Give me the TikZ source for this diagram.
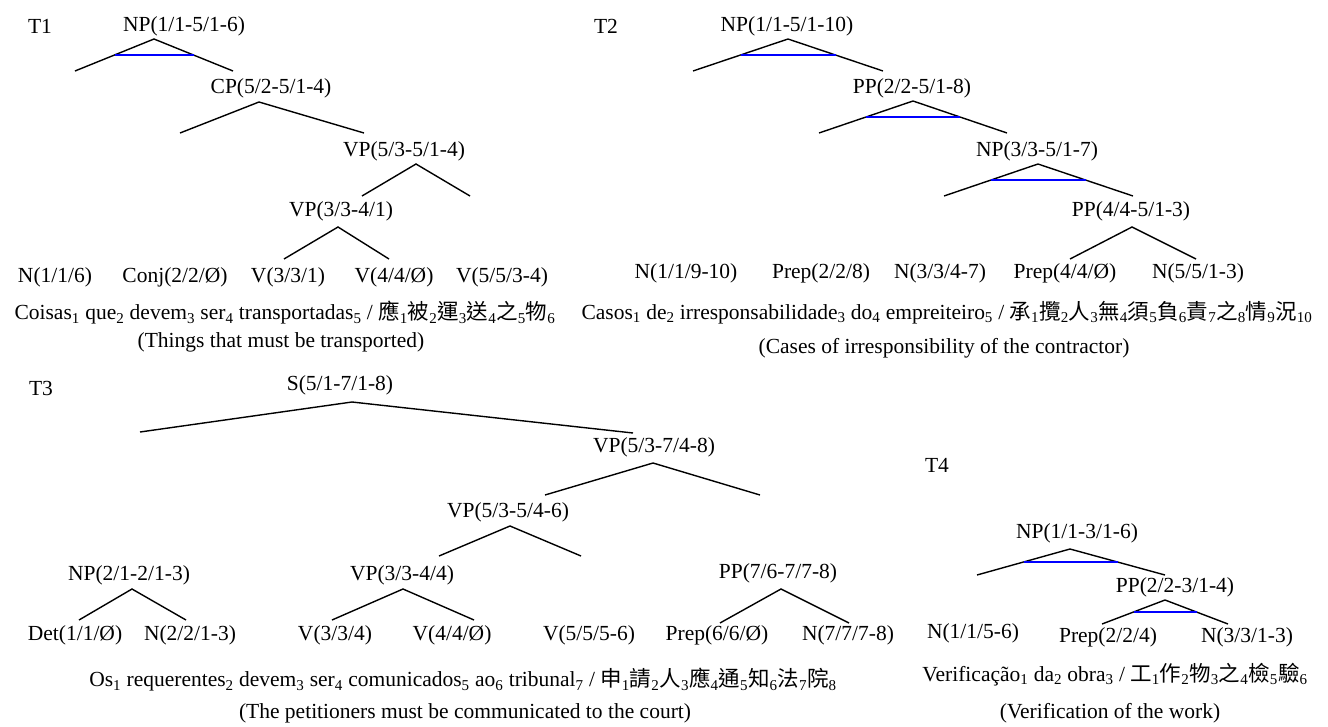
\documentclass[tikz,border=0pt]{standalone}
\usepackage{fontspec}
\setmainfont{Liberation Serif}
\newfontfamily\cjk{Noto Sans CJK TC}
\usetikzlibrary{calc}
% index after a word or a hanzi
\newcommand\ix[1]{\textsubscript{#1}}
\newcommand\hz[2]{{\cjk #1}\textsubscript{#2}}

\begin{document}
\begin{tikzpicture}[x=1pt,y=-1pt,
  every node/.style={inner sep=0pt,font=\fontsize{21.5}{26}\selectfont},
  branch/.style={line width=1.4pt},
  bar/.style={blue,line width=1.4pt}]
\useasboundingbox (0,0) rectangle (1328,726);

\def\ya{26};
\def\yb{88};
\def\yc{151};
\def\yd{211};

% T1
\node (t1) at (40,\ya) {T1};
\node (a-np) at (184,\ya) {NP(1/1-5/1-6)};
\coordinate (a-np-t) at (154,39);
\coordinate (a-np-l) at (75,71);
\coordinate (a-np-r) at (233,71);

\node (a-cp) at (271,\yb) {CP(5/2-5/1-4)};
\coordinate (a-cp-t) at (259,102);
\coordinate (a-cp-l) at (180,133);
\coordinate (a-cp-r) at (364,133);

\node (a-vp) at (404,\yc) {VP(5/3-5/1-4)};
\coordinate (a-vp-t) at (416,164);
\coordinate (a-vp-l) at (362,196);
\coordinate (a-vp-r) at (470,196);

\node (a-vq) at (341,\yd) {VP(3/3-4/1)};
\coordinate (a-vq-t) at (338,227);
\coordinate (a-vq-l) at (284,259);
\coordinate (a-vq-r) at (389,259);

\node (a-n1) at (55,277) {N(1/1/6)};
\node (a-c2) at (175,277) {Conj(2/2/Ø)};
\node (a-v3) at (288,277) {V(3/3/1)};
\node (a-v4) at (394,277) {V(4/4/Ø)};
\node (a-v5) at (502,277) {V(5/5/3-4)};

\node (a-pt) at (285,313) {Coisas\ix1 que\ix2 devem\ix3 ser\ix4 transportadas\ix5 / \hz{應}{1}\hz{被}{2}\hz{運}{3}\hz{送}{4}\hz{之}{5}\hz{物}{6}};
\node (a-en) at (281,342) {(Things that must be transported)};

% T2
\node (t2) at (606,\ya) {T2};
\node (b-np) at (787,\ya) {NP(1/1-5/1-10)};
\coordinate (b-np-t) at (788,39);
\coordinate (b-np-l) at (693,71);
\coordinate (b-np-r) at (883,71);

\node (b-pp) at (912,\yb) {PP(2/2-5/1-8)};
\coordinate (b-pp-t) at (913,101);
\coordinate (b-pp-l) at (819,133);
\coordinate (b-pp-r) at (1007,133);

\node (b-nq) at (1037,\yc) {NP(3/3-5/1-7)};
\coordinate (b-nq-t) at (1038,164);
\coordinate (b-nq-l) at (944,196);
\coordinate (b-nq-r) at (1133,196);

\node (b-pq) at (1131,\yd) {PP(4/4-5/1-3)};
\coordinate (b-pq-t) at (1132,227);
\coordinate (b-pq-l) at (1070,259);
\coordinate (b-pq-r) at (1196,259);

\node (b-n1) at (686,273) {N(1/1/9-10)};
\node (b-p2) at (821,273) {Prep(2/2/8)};
\node (b-n3) at (940,273) {N(3/3/4-7)};
\node (b-p4) at (1065,273) {Prep(4/4/Ø)};
\node (b-n5) at (1198,273) {N(5/5/1-3)};

\node (b-pt) at (947,313) {Casos\ix1 de\ix2 irresponsabilidade\ix3 do\ix4 empreiteiro\ix5 / \hz{承}{1}\hz{攬}{2}\hz{人}{3}\hz{無}{4}\hz{須}{5}\hz{負}{6}\hz{責}{7}\hz{之}{8}\hz{情}{9}\hz{況}{10}};
\node (b-en) at (944,348) {(Cases of irresponsibility of the contractor)};

% T3
\node (t3) at (41,388) {T3};
\node (c-s) at (340,385) {S(5/1-7/1-8)};
\coordinate (c-s-t) at (352,402);
\coordinate (c-s-l) at (140,432);
\coordinate (c-s-r) at (633,433);

\node (c-vp) at (654,447) {VP(5/3-7/4-8)};
\coordinate (c-vp-t) at (653,463);
\coordinate (c-vp-l) at (545,495);
\coordinate (c-vp-r) at (760,495);

\node (c-vq) at (508,512) {VP(5/3-5/4-6)};
\coordinate (c-vq-t) at (510,526);
\coordinate (c-vq-l) at (439,556);
\coordinate (c-vq-r) at (581,556);

\node (c-np) at (129,575) {NP(2/1-2/1-3)};
\coordinate (c-np-t) at (132,589);
\coordinate (c-np-l) at (79,620);
\coordinate (c-np-r) at (186,620);

\node (c-vr) at (402,575) {VP(3/3-4/4)};
\coordinate (c-vr-t) at (403,589);
\coordinate (c-vr-l) at (332,620);
\coordinate (c-vr-r) at (474,620);

\node (c-pp) at (778,573) {PP(7/6-7/7-8)};
\coordinate (c-pp-t) at (781,589);
\coordinate (c-pp-l) at (720,623);
\coordinate (c-pp-r) at (849,623);

\node (c-d1) at (75,635) {Det(1/1/Ø)};
\node (c-n2) at (190,635) {N(2/2/1-3)};
\node (c-v3) at (335,635) {V(3/3/4)};
\node (c-v4) at (452,635) {V(4/4/Ø)};
\node (c-v5) at (589,635) {V(5/5/5-6)};
\node (c-p6) at (717,635) {Prep(6/6/Ø)};
\node (c-n7) at (848,635) {N(7/7/7-8)};

\node (c-pt) at (463,680) {Os\ix1 requerentes\ix2 devem\ix3 ser\ix4 comunicados\ix5 ao\ix6 tribunal\ix7 / \hz{申}{1}\hz{請}{2}\hz{人}{3}\hz{應}{4}\hz{通}{5}\hz{知}{6}\hz{法}{7}\hz{院}{8}};
\node (c-en) at (465,713) {(The petitioners must be communicated to the court)};

% T4
\node (t4) at (937,465) {T4};
\node (d-np) at (1077,533) {NP(1/1-3/1-6)};
\coordinate (d-np-t) at (1070,549);
\coordinate (d-np-l) at (977,575);
\coordinate (d-np-r) at (1165,575);

\node (d-pp) at (1175,587) {PP(2/2-3/1-4)};
\coordinate (d-pp-t) at (1165,600);
\coordinate (d-pp-l) at (1102,624);
\coordinate (d-pp-r) at (1228,624);

\node (d-n1) at (973,633) {N(1/1/5-6)};
\node (d-p2) at (1108,637) {Prep(2/2/4)};
\node (d-n3) at (1247,637) {N(3/3/1-3)};

\node (d-pt) at (1115,675) {Verificação\ix1 da\ix2 obra\ix3 / \hz{工}{1}\hz{作}{2}\hz{物}{3}\hz{之}{4}\hz{檢}{5}\hz{驗}{6}};
\node (d-en) at (1110,713) {(Verification of the work)};

% branches, blue bars on the flat ones
\foreach \p in {a-np,a-cp,a-vp,a-vq,b-np,b-pp,b-nq,b-pq,c-s,c-vp,c-vq,c-np,c-vr,c-pp,d-np,d-pp}
  \draw[branch] (\p-l) -- (\p-t) -- (\p-r);
\foreach \p in {a-np,b-np,b-pp,b-nq,d-np,d-pp}
  \draw[bar] ($(\p-t)!.5!(\p-l)$) -- ($(\p-t)!.5!(\p-r)$);

\end{tikzpicture}
\end{document}
